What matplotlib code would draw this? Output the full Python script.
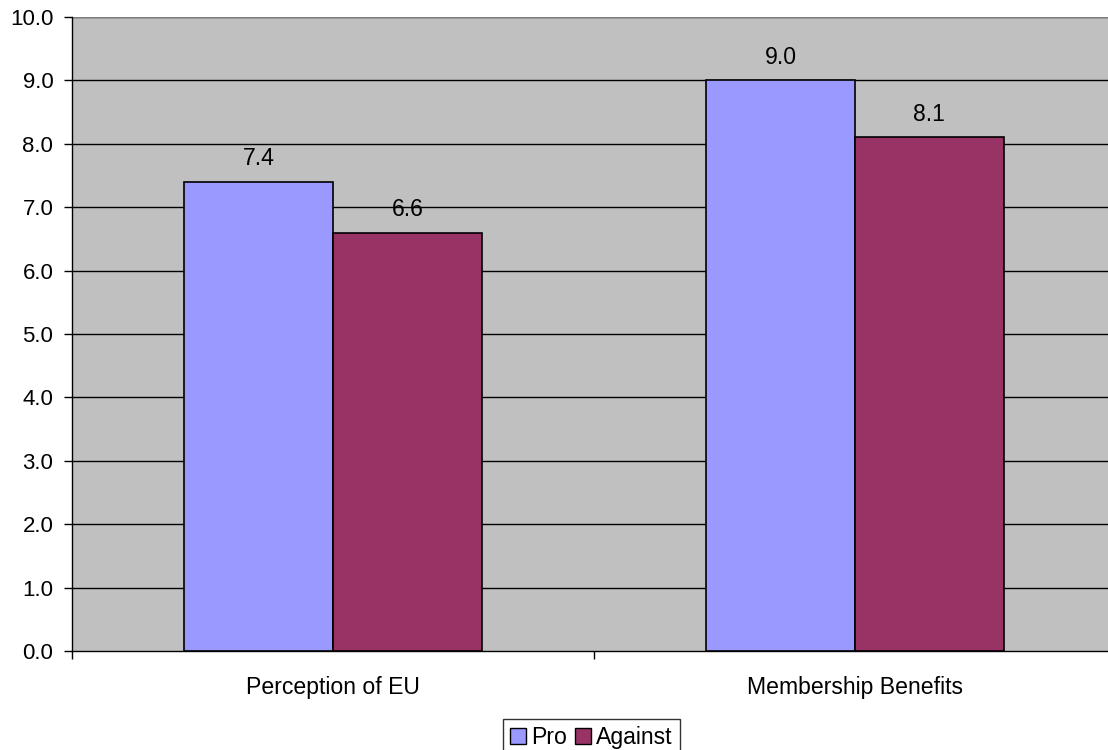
import matplotlib
matplotlib.use("Agg")
import matplotlib.pyplot as plt
import numpy as np
from matplotlib.patches import Patch

plt.rcParams['font.family'] = ['Liberation Sans', 'DejaVu Sans']

categories = ["Perception of EU", "Membership Benefits"]
series_names = ["Pro", "Against"]
pro = [7.4, 9.0]
against = [6.6, 8.1]
yticks = [0.0, 1.0, 2.0, 3.0, 4.0, 5.0, 6.0, 7.0, 8.0, 9.0, 10.0]

colors = ["#9999FF", "#993366"]
FS = 16.6
FS_TICK = 16

W, H = 1108, 750
fig = plt.figure(figsize=(W / 100, H / 100), dpi=100)
left, right, top, bottom = 72, 1116, 17, 651
ax = fig.add_axes([left / W, 1 - bottom / H, (right - left) / W, (bottom - top) / H])
ax.set_facecolor("#C0C0C0")

x = np.arange(len(categories))
bw = 0.285
for i, (vals, c) in enumerate(zip([pro, against], colors)):
    pos = x + (i - 0.5) * bw
    ax.bar(pos, vals, width=bw, color=c, edgecolor="black", linewidth=1.2, zorder=3)
    for p, v in zip(pos, vals):
        ax.text(p, v + 0.18, f"{v:.1f}", ha="center", va="bottom", fontsize=FS, zorder=4)

ax.set_xlim(-0.5, len(categories) - 0.5)
ax.set_ylim(0, 10)
ax.set_yticks(yticks)
ax.set_yticklabels([f"{t:.1f}" for t in yticks], fontsize=FS_TICK)
for t in yticks[1:]:
    ax.axhline(t, color="black", linewidth=1.0, zorder=1)
ax.axhline(10, color="#808080", linewidth=1.5, zorder=2)

ax.set_xticks(np.arange(-0.5, len(categories), 1.0))
ax.set_xticklabels([])
ax.set_xticks(x, minor=True)
ax.set_xticklabels(categories, minor=True, fontsize=FS)
ax.tick_params(axis="x", which="minor", length=0, pad=18)
ax.tick_params(axis="x", which="major", length=6, direction="out", width=1)
ax.tick_params(axis="y", length=6, direction="out", width=1, pad=7.5)

for s in ["top", "right"]:
    ax.spines[s].set_visible(False)
for s in ["left", "bottom"]:
    ax.spines[s].set_color("black")
    ax.spines[s].set_linewidth(1.0)

handles = [Patch(facecolor=c, edgecolor="black", linewidth=1.0) for c in colors]
leg = fig.legend(handles, series_names, loc="upper left",
                 bbox_to_anchor=(503 / W, 1 - 719 / H), ncol=2, fontsize=FS,
                 frameon=True, fancybox=False, edgecolor="black",
                 handlelength=0.7, handleheight=0.7, handletextpad=0.22,
                 columnspacing=0.35, borderpad=0.3, borderaxespad=0)
leg.get_frame().set_linewidth(1.0)

fig.savefig("out.png", dpi=100)
